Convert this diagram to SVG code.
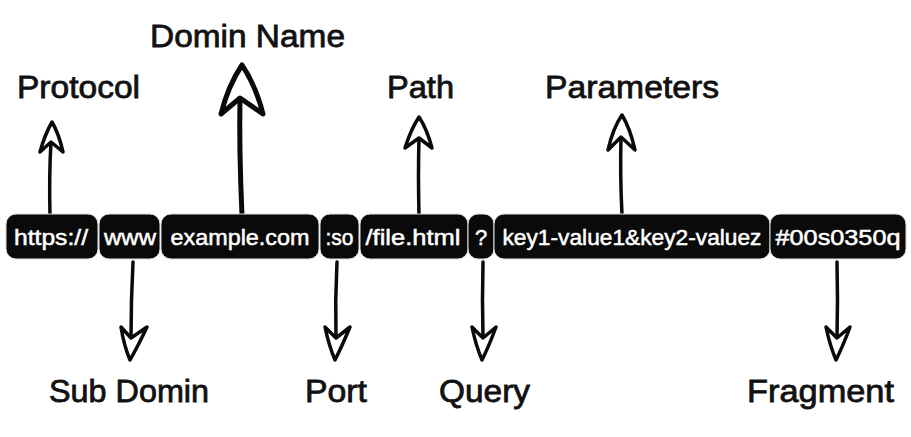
<svg xmlns="http://www.w3.org/2000/svg" width="911" height="437" viewBox="0 0 911 437">
<style>
.seg{fill:#0a0a0a;stroke:#e0e0e0;stroke-width:1}
.segt{font-family:"Liberation Sans",Arial,sans-serif;font-size:22px;fill:#ffffff;stroke:#ffffff;stroke-width:0.5;text-anchor:middle}
.lbl{font-family:"Liberation Sans",Arial,sans-serif;font-size:32px;fill:#111111;stroke:#111111;stroke-width:0.8}
.shaft{fill:none;stroke:#0a0a0a;stroke-width:3.5;stroke-linecap:round}
.head{fill:#ffffff;stroke:#0a0a0a;stroke-width:3.5;stroke-linejoin:round}
.big .shaft,.big .head{stroke-width:5}
</style>
<rect width="911" height="437" fill="#ffffff"/>
<g id="connectors">
  <g id="c-protocol"><path class="shaft" d="M50,215 Q49,175 51,142"/><path class="head" d="M52,122 Q59,134 63,152 L51,142 L40,152 Q45,134 52,122 Z"/></g>
  <g id="c-domain" class="big"><path class="shaft" d="M242,215 Q239,150 240,98"/><path class="head" d="M242,65 Q256,86 263,114 L240,98 L221,114 Q228,86 242,65 Z"/></g>
  <g id="c-path"><path class="shaft" d="M419,215 Q418,175 419,138"/><path class="head" d="M419,117 Q427,129 432,148 L419,138 L405,148 Q411,129 419,117 Z"/></g>
  <g id="c-params"><path class="shaft" d="M622,215 Q620,175 621,137"/><path class="head" d="M622,115 Q630,128 635,150 L621,137 L608,150 Q613,128 622,115 Z"/></g>
  <g id="c-subdomain"><path class="shaft" d="M133,262 Q131,300 131,338"/><path class="head" d="M130,360 Q124,346 121,327 L131,338 L147,327 Q138,346 130,360 Z"/></g>
  <g id="c-port"><path class="shaft" d="M337,262 Q335,300 336,338"/><path class="head" d="M335,360 Q329,346 325,327 L336,338 L350,327 Q342,346 335,360 Z"/></g>
  <g id="c-query"><path class="shaft" d="M483,262 Q482,300 483,338"/><path class="head" d="M482,360 Q476,346 472,327 L483,338 L496,327 Q489,346 482,360 Z"/></g>
  <g id="c-fragment"><path class="shaft" d="M837,262 Q838,300 837,338"/><path class="head" d="M836,360 Q830,346 826,327 L837,338 L850,327 Q843,346 836,360 Z"/></g>
</g>
<g id="n-https"><rect class="seg" x="6" y="214" width="92" height="45" rx="10"/><text class="segt" x="51" y="245" textLength="74" lengthAdjust="spacingAndGlyphs">https://</text></g>
<g id="n-www"><rect class="seg" x="99" y="214" width="61" height="45" rx="10"/><text class="segt" x="130" y="245" textLength="52" lengthAdjust="spacingAndGlyphs">www</text></g>
<g id="n-domain"><rect class="seg" x="161" y="214" width="158" height="45" rx="10"/><text class="segt" x="240" y="245" textLength="139" lengthAdjust="spacingAndGlyphs">example.com</text></g>
<g id="n-port"><rect class="seg" x="320" y="214" width="39" height="45" rx="10"/><text class="segt" x="339.5" y="245" textLength="28" lengthAdjust="spacingAndGlyphs">:so</text></g>
<g id="n-path"><rect class="seg" x="360" y="214" width="108" height="45" rx="10"/><text class="segt" x="413" y="245" textLength="95" lengthAdjust="spacingAndGlyphs">/file.html</text></g>
<g id="n-query"><rect class="seg" x="468" y="214" width="26" height="45" rx="10"/><text class="segt" x="481" y="245">?</text></g>
<g id="n-params"><rect class="seg" x="494" y="214" width="276" height="45" rx="10"/><text class="segt" x="632" y="245" textLength="259" lengthAdjust="spacingAndGlyphs">key1-value1&amp;key2-valuez</text></g>
<g id="n-fragment"><rect class="seg" x="770" y="214" width="136" height="45" rx="10"/><text class="segt" x="838" y="245" textLength="125" lengthAdjust="spacingAndGlyphs">#00s0350q</text></g>
<g id="l-protocol"><text class="lbl" x="17" y="98" textLength="123" lengthAdjust="spacingAndGlyphs">Protocol</text></g>
<g id="l-domain"><text class="lbl" x="150" y="47" textLength="195" lengthAdjust="spacingAndGlyphs">Domin Name</text></g>
<g id="l-path"><text class="lbl" x="387" y="98" textLength="67" lengthAdjust="spacingAndGlyphs">Path</text></g>
<g id="l-params"><text class="lbl" x="545" y="98" textLength="174" lengthAdjust="spacingAndGlyphs">Parameters</text></g>
<g id="l-subdomain"><text class="lbl" x="49" y="402" textLength="160" lengthAdjust="spacingAndGlyphs">Sub Domin</text></g>
<g id="l-port"><text class="lbl" x="305" y="402" textLength="62" lengthAdjust="spacingAndGlyphs">Port</text></g>
<g id="l-query"><text class="lbl" x="439" y="402" textLength="91" lengthAdjust="spacingAndGlyphs">Query</text></g>
<g id="l-fragment"><text class="lbl" x="747" y="402" textLength="147" lengthAdjust="spacingAndGlyphs">Fragment</text></g>
</svg>
